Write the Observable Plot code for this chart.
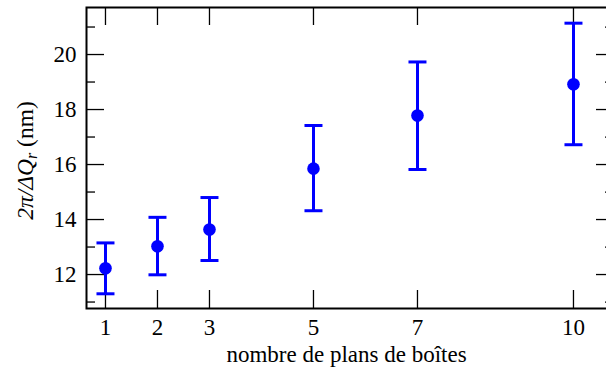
<!DOCTYPE html>
<html><head><meta charset="utf-8">
<script src="https://cdn.jsdelivr.net/npm/d3@7"></script>
<script src="https://cdn.jsdelivr.net/npm/@observablehq/plot@0.6"></script>
<style>html,body{margin:0;padding:0;overflow:hidden;background:#fff}</style>
</head><body><div id="chart"></div>
<script>
// Data
const boxes = [1, 2, 3, 5, 7, 10];
const period = [12.23, 13.03, 13.64, 15.85, 17.78, 18.92];
const errLow = [11.30, 11.99, 12.51, 14.32, 15.82, 16.72];
const errHigh = [13.15, 14.08, 14.80, 17.42, 19.73, 21.14];
const xTicks = [1, 2, 3, 5, 7, 10];
const yTicks = [12, 14, 16, 18, 20];
const yMinorTicks = [11, 13, 15, 17, 19, 21];
const xLabel = "nombre de plans de boîtes";

const data = boxes.map((b, i) => ({x: b, y: period[i], lo: errLow[i], hi: errHigh[i]}));

const W = 606, H = 371, mL = 86, mR = -8, mT = 7, mB = 63;
const innerW = W - mL - mR, innerH = H - mT - mB;
const blue = "#0000ff";
const serif = "'Liberation Serif', 'Times New Roman', serif";
const capSymbol = {draw(ctx, size) { const r = Math.sqrt(size / Math.PI); ctx.moveTo(-r, 0); ctx.lineTo(r, 0); }};

const plot = Plot.plot({
  width: W, height: H,
  marginLeft: mL, marginRight: mR, marginTop: mT, marginBottom: mB,
  style: {fontFamily: serif, fontSize: "23px", color: "#000", background: "#fff"},
  x: {domain: [0.635, 10.789]},
  y: {domain: [10.765, 21.71]},
  marks: [
    Plot.tickX(xTicks, {x: d => d, insetTop: innerH - 18, stroke: "#000", strokeWidth: 1.3}),
    Plot.tickX(xTicks, {x: d => d, insetBottom: innerH - 18, stroke: "#000", strokeWidth: 1.3}),
    Plot.tickY(yTicks, {y: d => d, insetRight: innerW - 18, stroke: "#000", strokeWidth: 1.3}),
    Plot.tickY(yTicks, {y: d => d, insetLeft: innerW - 18, stroke: "#000", strokeWidth: 1.3}),
    Plot.tickY(yMinorTicks, {y: d => d, insetRight: innerW - 9, stroke: "#000", strokeWidth: 1.3}),
    Plot.tickY(yMinorTicks, {y: d => d, insetLeft: innerW - 9, stroke: "#000", strokeWidth: 1.3}),
    Plot.axisX({ticks: xTicks, tickSize: 0, tickPadding: 10, label: null, tickFormat: d => String(d), fontSize: 23, fontFamily: serif}),
    Plot.axisY({ticks: yTicks, tickSize: 0, tickPadding: 10, label: null, tickFormat: d => String(d), fontSize: 23, fontFamily: serif}),
    Plot.frame({stroke: "#000", strokeWidth: 2}),
    Plot.ruleX(data, {x: "x", y1: "lo", y2: "hi", stroke: blue, strokeWidth: 3}),
    Plot.dot(data, {x: "x", y: "hi", symbol: capSymbol, r: 9, stroke: blue, strokeWidth: 3, fill: "none"}),
    Plot.dot(data, {x: "x", y: "lo", symbol: capSymbol, r: 9, stroke: blue, strokeWidth: 3, fill: "none"}),
    Plot.dot(data, {x: "x", y: "y", r: 6.3, fill: blue}),
    Plot.text([xLabel], {text: d => d, frameAnchor: "bottom", dy: 53, dx: -4, lineAnchor: "bottom", fill: "#000", fontSize: 23, fontFamily: serif})
  ]
});

// Y-axis label with italic math and subscript
const svg = d3.select(plot);
const t = svg.append("text")
  .attr("transform", "translate(33,160.5) rotate(-90)")
  .attr("text-anchor", "middle")
  .attr("fill", "#000")
  .style("font-family", serif)
  .style("font-size", "23.5px");
t.append("tspan").attr("font-style", "italic").text("2π/ΔQ");
t.append("tspan").attr("font-style", "italic").attr("font-size", "16px").attr("dy", 4).text("r");
t.append("tspan").attr("dy", -4).text(" (nm)");

document.getElementById("chart").appendChild(plot);
</script>
</body></html>
